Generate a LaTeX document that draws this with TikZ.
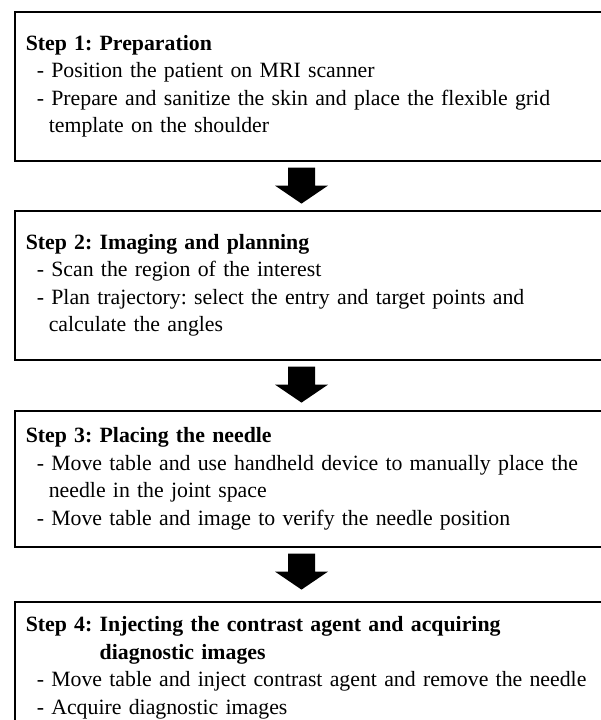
\documentclass[tikz,border=0pt]{standalone}
\usepackage{fontspec}
\setmainfont{Liberation Serif}
\usetikzlibrary{calc}
\frenchspacing
\tikzset{
	stepbox/.style={draw, line width=1.6pt, anchor=north west, text width=590pt, inner xsep=11pt, align=left, font=\fontsize{21.8}{27.4}\selectfont},
	blockarrow/.style={fill=black},
}
\begin{document}
\begin{tikzpicture}[x=1pt, y=1pt]
		\clip (0,0) rectangle (601,-720);
		\node[stepbox, minimum height=149pt] (prep) at (14, -11) {\textbf{Step 1: Preparation}\\
			\hspace*{11pt}- Position the patient on MRI scanner\\
			\hspace*{11pt}- Prepare and sanitize the skin and place the flexible grid\\
			\hspace*{23pt}template on the shoulder};
		\node[stepbox, minimum height=149pt] (plan) at (14, -210) {\textbf{Step 2: Imaging and planning}\\
			\hspace*{11pt}- Scan the region of the interest\\
			\hspace*{11pt}- Plan trajectory: select the entry and target points and\\
			\hspace*{23pt}calculate the angles};
		\node[stepbox, minimum height=136pt] (needle) at (14, -410) {\textbf{Step 3: Placing the needle}\\
			\hspace*{11pt}- Move table and use handheld device to manually place the\\
			\hspace*{23pt}needle in the joint space\\
			\hspace*{11pt}- Move table and image to verify the needle position};
		\node[stepbox, minimum height=132pt] (inject) at (14, -601) {\textbf{Step 4: Injecting the contrast agent and acquiring}\\
			\textbf{\phantom{Step 4: }diagnostic images}\\
			\hspace*{11pt}- Move table and inject contrast agent and remove the needle\\
			\hspace*{11pt}- Acquire diagnostic images};
		% block arrows between the steps
		\foreach \a in {prep, plan, needle}
			\fill[blockarrow] ($(\a.south west)+(274,-6)$) -- ++(27,0) -- ++(0,-18) -- ++(13,0)
				-- ++(-26.5,-18) -- ++(-26.5,18) -- ++(13,0) -- cycle;
	\end{tikzpicture}
\end{document}
